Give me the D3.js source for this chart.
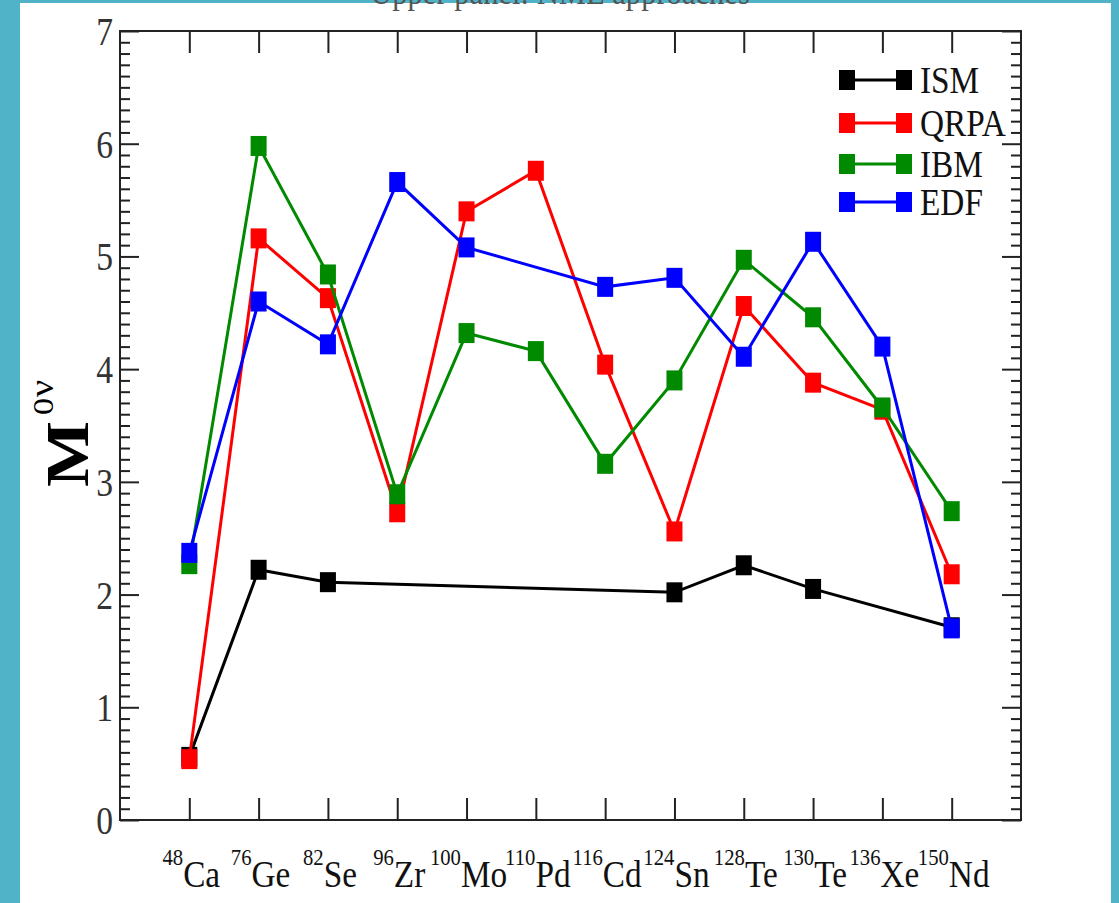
<!DOCTYPE html>
<html>
<head>
<meta charset="utf-8">
<script src="https://cdn.jsdelivr.net/npm/d3@7"></script>
<style>
  html, body { margin: 0; padding: 0; background: #fff; }
  svg { display: block; }
  text { font-family: "Liberation Serif", "Times New Roman", serif; }
</style>
</head>
<body>
<svg width="1119" height="903"></svg>
<script>
// nuclei on the x axis
const massNumbers = ["48", "76", "82", "96", "100", "110", "116", "124", "128", "130", "136", "150"];
const elements = ["Ca", "Ge", "Se", "Zr", "Mo", "Pd", "Cd", "Sn", "Te", "Te", "Xe", "Nd"];

// M^0v values (null = no point)
const ism  = [0.56, 2.22, 2.11, null, null, null, null, 2.02, 2.26, 2.05, null, 1.71];
const qrpa = [0.54, 5.16, 4.63, 2.73, 5.40, 5.76, 4.04, 2.56, 4.56, 3.88, 3.64, 2.18];
const ibm  = [2.27, 5.98, 4.84, 2.89, 4.32, 4.16, 3.16, 3.90, 4.97, 4.46, 3.66, 2.74];
const edf  = [2.37, 4.60, 4.22, 5.66, 5.08, null, 4.73, 4.81, 4.11, 5.13, 4.20, 1.70];

const seriesNames = ["ISM", "QRPA", "IBM", "EDF"];
const seriesColors = ["#000000", "#ff0000", "#008a00", "#0000ff"];
const yTicks = [0, 1, 2, 3, 4, 5, 6, 7];

const svg = d3.select("svg");
const sx = 0.9; // the picture is a bit squeezed sideways

// teal frame of the slide
svg.append("rect").attr("x", 0).attr("y", 0).attr("width", 1119).attr("height", 903).attr("fill", "#50b3c8");
svg.append("rect").attr("x", 20).attr("y", 3).attr("width", 1091).attr("height", 900).attr("fill", "#fff");

// title, mostly cut off at the top of the slide
svg.append("g")
    .attr("transform", `translate(560,4) scale(${sx},1)`)
    .append("text")
    .attr("text-anchor", "middle")
    .attr("font-size", 34)
    .attr("fill", "#555")
    .text("Upper panel: NME approaches");

const x = d3.scaleLinear().domain([0, 13]).range([120, 1021]);
const y = d3.scaleLinear().domain([0, 7]).range([820, 31]);

const minor = d3.range(0, 71).map(i => i / 10).filter(v => Math.abs(v - Math.round(v)) > 1e-6);
const cats = d3.range(1, 13);

function styleAxis(g) {
    g.selectAll("path").remove();
    g.selectAll("line").attr("stroke", "#222").attr("stroke-width", 2);
    g.selectAll("text").remove();
}

svg.append("g").attr("transform", "translate(120,0)")
    .call(d3.axisLeft(y).tickValues(yTicks).tickSize(-19)).call(styleAxis);
svg.append("g").attr("transform", "translate(120,0)")
    .call(d3.axisLeft(y).tickValues(minor).tickSize(-10)).call(styleAxis);
svg.append("g").attr("transform", "translate(1021,0)")
    .call(d3.axisRight(y).tickValues(yTicks).tickSize(-19)).call(styleAxis);
svg.append("g").attr("transform", "translate(1021,0)")
    .call(d3.axisRight(y).tickValues(minor).tickSize(-10)).call(styleAxis);
svg.append("g").attr("transform", "translate(0,820)")
    .call(d3.axisBottom(x).tickValues(cats).tickSize(-22)).call(styleAxis);
svg.append("g").attr("transform", "translate(0,31)")
    .call(d3.axisTop(x).tickValues(cats).tickSize(-22)).call(styleAxis);

// frame
svg.append("rect")
    .attr("x", x(0)).attr("y", y(7))
    .attr("width", x(13) - x(0)).attr("height", y(0) - y(7))
    .attr("fill", "none").attr("stroke", "#222").attr("stroke-width", 2);

// y tick labels
yTicks.forEach(v => {
    svg.append("g")
        .attr("transform", `translate(113,${y(v) + 14}) scale(0.82,1)`)
        .append("text")
        .attr("text-anchor", "end")
        .attr("font-size", 41)
        .attr("fill", "#333")
        .text(v);
});

// x tick labels with mass number as superscript
cats.forEach((c, i) => {
    const t = svg.append("g")
        .attr("transform", `translate(${x(c) + 2},887) scale(${sx},1)`)
        .append("text")
        .attr("text-anchor", "middle")
        .attr("fill", "#111");
    t.append("tspan").attr("font-size", 23).attr("dy", -22).text(massNumbers[i]);
    t.append("tspan").attr("font-size", 37).attr("dy", 22).text(elements[i]);
});

// y axis title M^0v
const yl = svg.append("g")
    .attr("transform", `translate(88,487) scale(0.88,1) rotate(-90)`)
    .append("text")
    .attr("fill", "#000");
yl.append("tspan").attr("font-size", 70).attr("font-weight", "bold").text("M");
yl.append("tspan").attr("font-size", 34).attr("dx", 6).attr("dy", -40).text("0");
yl.append("tspan").attr("font-size", 38).attr("dx", 1).attr("dy", 0).text("ν");

// series
const allSeries = [ism, qrpa, ibm, edf];
const line = d3.line().x(d => x(d.i)).y(d => y(d.v));
const mw = 16, mh = 20;

allSeries.forEach((vals, k) => {
    const pts = vals.map((v, i) => ({ i: i + 1, v: v })).filter(d => d.v !== null);
    const g = svg.append("g");
    g.append("path")
        .attr("d", line(pts))
        .attr("fill", "none")
        .attr("stroke", seriesColors[k])
        .attr("stroke-width", 3);
    g.selectAll("rect")
        .data(pts)
        .enter()
        .append("rect")
        .attr("x", d => x(d.i) - mw / 2)
        .attr("y", d => y(d.v) - mh / 2)
        .attr("width", mw)
        .attr("height", mh)
        .attr("fill", seriesColors[k]);
});

// legend
const legendY = [80, 123, 164, 202];
seriesNames.forEach((name, k) => {
    const g = svg.append("g");
    g.append("line")
        .attr("x1", 847).attr("x2", 904)
        .attr("y1", legendY[k]).attr("y2", legendY[k])
        .attr("stroke", seriesColors[k]).attr("stroke-width", 3);
    [847, 904].forEach(cx => {
        g.append("rect")
            .attr("x", cx - mw / 2).attr("y", legendY[k] - mh / 2)
            .attr("width", mw).attr("height", mh)
            .attr("fill", seriesColors[k]);
    });
    svg.append("g")
        .attr("transform", `translate(920,${legendY[k] + 13}) scale(${sx},1)`)
        .append("text")
        .attr("font-size", 37)
        .attr("fill", "#111")
        .text(name);
});
</script>
</body>
</html>
